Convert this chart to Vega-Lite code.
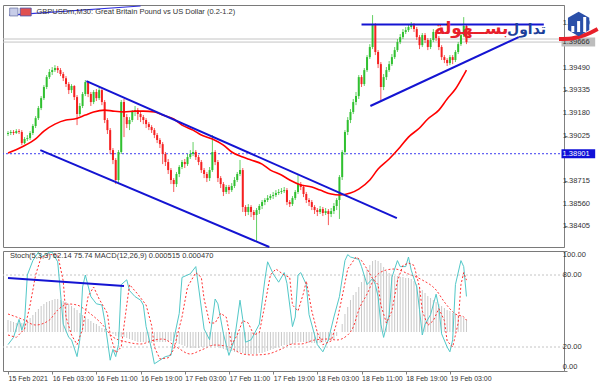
{
"$schema":"https://vega.github.io/schema/vega-lite/v6.json",
"background":"white",
"padding":{"left":2,"top":3,"right":0,"bottom":0},
"spacing":4,
"bounds":"flush",
"config":{"view":{"stroke":"#7a7a7a","strokeWidth":1},"axis":{"domainColor":"#808080","tickColor":"#808080","labelColor":"#333333","labelFont":"Liberation Sans","labelFontSize":7.5,"grid":false,"tickSize":3,"labelOverlap":false},"text":{"font":"Liberation Sans"}},
"datasets":{
"bars":[
{"i":0,"o":1.39036,"h":1.39056,"l":1.39022,"c":1.39043,"m":0.00048},
{"i":1,"o":1.39043,"h":1.39063,"l":1.39029,"c":1.39050,"m":0.00044},
{"i":2,"o":1.39050,"h":1.39063,"l":1.39029,"c":1.39043,"m":0.00040},
{"i":3,"o":1.39043,"h":1.39070,"l":1.39036,"c":1.39056,"m":0.00036},
{"i":4,"o":1.39056,"h":1.39070,"l":1.39036,"c":1.39050,"m":0.00036},
{"i":5,"o":1.39050,"h":1.39063,"l":1.38960,"c":1.38974,"m":0.00036},
{"i":6,"o":1.38974,"h":1.39015,"l":1.38967,"c":1.39002,"m":0.00040},
{"i":7,"o":1.39002,"h":1.39029,"l":1.38988,"c":1.39008,"m":0.00048},
{"i":8,"o":1.39008,"h":1.39056,"l":1.38995,"c":1.39043,"m":0.00056},
{"i":9,"o":1.39043,"h":1.39104,"l":1.39029,"c":1.39091,"m":0.00068},
{"i":10,"o":1.39091,"h":1.39159,"l":1.39077,"c":1.39145,"m":0.00080},
{"i":11,"o":1.39145,"h":1.39228,"l":1.39132,"c":1.39214,"m":0.00092},
{"i":12,"o":1.39214,"h":1.39296,"l":1.39200,"c":1.39282,"m":0.00104},
{"i":13,"o":1.39282,"h":1.39371,"l":1.39269,"c":1.39358,"m":0.00112},
{"i":14,"o":1.39358,"h":1.39440,"l":1.39344,"c":1.39426,"m":0.00120},
{"i":15,"o":1.39426,"h":1.39481,"l":1.39413,"c":1.39461,"m":0.00124},
{"i":16,"o":1.39461,"h":1.39495,"l":1.39440,"c":1.39474,"m":0.00128},
{"i":17,"o":1.39474,"h":1.39508,"l":1.39461,"c":1.39488,"m":0.00132},
{"i":18,"o":1.39488,"h":1.39502,"l":1.39454,"c":1.39474,"m":0.00132},
{"i":19,"o":1.39474,"h":1.39488,"l":1.39433,"c":1.39447,"m":0.00128},
{"i":20,"o":1.39447,"h":1.39461,"l":1.39399,"c":1.39419,"m":0.00124},
{"i":21,"o":1.39419,"h":1.39433,"l":1.39358,"c":1.39378,"m":0.00120},
{"i":22,"o":1.39378,"h":1.39392,"l":1.39310,"c":1.39337,"m":0.00112},
{"i":23,"o":1.39337,"h":1.39378,"l":1.39317,"c":1.39365,"m":0.00104},
{"i":24,"o":1.39365,"h":1.39371,"l":1.39269,"c":1.39289,"m":0.00096},
{"i":25,"o":1.39289,"h":1.39303,"l":1.39097,"c":1.39173,"m":0.00088},
{"i":26,"o":1.39173,"h":1.39248,"l":1.39159,"c":1.39228,"m":0.00076},
{"i":27,"o":1.39228,"h":1.39324,"l":1.39214,"c":1.39310,"m":0.00068},
{"i":28,"o":1.39310,"h":1.39406,"l":1.39296,"c":1.39392,"m":0.00060},
{"i":29,"o":1.39392,"h":1.39399,"l":1.39289,"c":1.39310,"m":0.00052},
{"i":30,"o":1.39310,"h":1.39324,"l":1.39228,"c":1.39255,"m":0.00044},
{"i":31,"o":1.39255,"h":1.39337,"l":1.39241,"c":1.39324,"m":0.00036},
{"i":32,"o":1.39324,"h":1.39344,"l":1.39262,"c":1.39282,"m":0.00032},
{"i":33,"o":1.39282,"h":1.39358,"l":1.39269,"c":1.39337,"m":0.00024},
{"i":34,"o":1.39337,"h":1.39344,"l":1.39234,"c":1.39255,"m":0.00016},
{"i":35,"o":1.39255,"h":1.39269,"l":1.39111,"c":1.39132,"m":0.00012},
{"i":36,"o":1.39132,"h":1.39145,"l":1.39036,"c":1.39063,"m":0.00004},
{"i":37,"o":1.39063,"h":1.39077,"l":1.38899,"c":1.38926,"m":0.0},
{"i":38,"o":1.38926,"h":1.38940,"l":1.38830,"c":1.38858,"m":-0.00008},
{"i":39,"o":1.38858,"h":1.38871,"l":1.38693,"c":1.38721,"m":-0.00016},
{"i":40,"o":1.38721,"h":1.38926,"l":1.38693,"c":1.38913,"m":-0.00020},
{"i":41,"o":1.38913,"h":1.39269,"l":1.38899,"c":1.39255,"m":-0.00020},
{"i":42,"o":1.39255,"h":1.39276,"l":1.39015,"c":1.39152,"m":-0.00020},
{"i":43,"o":1.39152,"h":1.39173,"l":1.39077,"c":1.39104,"m":-0.00024},
{"i":44,"o":1.39104,"h":1.39152,"l":1.39063,"c":1.39132,"m":-0.00028},
{"i":45,"o":1.39132,"h":1.39200,"l":1.39118,"c":1.39187,"m":-0.00032},
{"i":46,"o":1.39187,"h":1.39228,"l":1.39159,"c":1.39200,"m":-0.00036},
{"i":47,"o":1.39200,"h":1.39214,"l":1.39132,"c":1.39173,"m":-0.00040},
{"i":48,"o":1.39173,"h":1.39187,"l":1.39118,"c":1.39152,"m":-0.00040},
{"i":49,"o":1.39152,"h":1.39166,"l":1.39104,"c":1.39132,"m":-0.00040},
{"i":50,"o":1.39132,"h":1.39145,"l":1.39077,"c":1.39104,"m":-0.00040},
{"i":51,"o":1.39104,"h":1.39118,"l":1.39063,"c":1.39084,"m":-0.00044},
{"i":52,"o":1.39084,"h":1.39097,"l":1.39043,"c":1.39063,"m":-0.00044},
{"i":53,"o":1.39063,"h":1.39077,"l":1.39008,"c":1.39029,"m":-0.00040},
{"i":54,"o":1.39029,"h":1.39043,"l":1.38974,"c":1.38995,"m":-0.00040},
{"i":55,"o":1.38995,"h":1.39008,"l":1.38940,"c":1.38967,"m":-0.00040},
{"i":56,"o":1.38967,"h":1.38981,"l":1.38830,"c":1.38899,"m":-0.00040},
{"i":57,"o":1.38899,"h":1.38913,"l":1.38817,"c":1.38844,"m":-0.00040},
{"i":58,"o":1.38844,"h":1.38865,"l":1.38762,"c":1.38789,"m":-0.00036},
{"i":59,"o":1.38789,"h":1.38803,"l":1.38693,"c":1.38721,"m":-0.00036},
{"i":60,"o":1.38721,"h":1.38734,"l":1.38639,"c":1.38693,"m":-0.00040},
{"i":61,"o":1.38693,"h":1.38776,"l":1.38673,"c":1.38762,"m":-0.00044},
{"i":62,"o":1.38762,"h":1.38823,"l":1.38741,"c":1.38810,"m":-0.00048},
{"i":63,"o":1.38810,"h":1.38858,"l":1.38796,"c":1.38844,"m":-0.00052},
{"i":64,"o":1.38844,"h":1.38865,"l":1.38803,"c":1.38830,"m":-0.00056},
{"i":65,"o":1.38830,"h":1.38899,"l":1.38817,"c":1.38878,"m":-0.00060},
{"i":66,"o":1.38878,"h":1.38926,"l":1.38865,"c":1.38899,"m":-0.00064},
{"i":67,"o":1.38899,"h":1.38981,"l":1.38885,"c":1.38913,"m":-0.00064},
{"i":68,"o":1.38913,"h":1.38926,"l":1.38858,"c":1.38878,"m":-0.00064},
{"i":69,"o":1.38878,"h":1.38892,"l":1.38823,"c":1.38844,"m":-0.00064},
{"i":70,"o":1.38844,"h":1.38858,"l":1.38769,"c":1.38789,"m":-0.00060},
{"i":71,"o":1.38789,"h":1.38803,"l":1.38734,"c":1.38762,"m":-0.00060},
{"i":72,"o":1.38762,"h":1.38776,"l":1.38707,"c":1.38734,"m":-0.00060},
{"i":73,"o":1.38734,"h":1.38810,"l":1.38714,"c":1.38789,"m":-0.00056},
{"i":74,"o":1.38789,"h":1.39029,"l":1.38776,"c":1.38913,"m":-0.00056},
{"i":75,"o":1.38913,"h":1.38926,"l":1.38823,"c":1.38844,"m":-0.00056},
{"i":76,"o":1.38844,"h":1.38858,"l":1.38707,"c":1.38734,"m":-0.00060},
{"i":77,"o":1.38734,"h":1.38748,"l":1.38666,"c":1.38693,"m":-0.00064},
{"i":78,"o":1.38693,"h":1.38707,"l":1.38611,"c":1.38639,"m":-0.00068},
{"i":79,"o":1.38639,"h":1.38687,"l":1.38625,"c":1.38673,"m":-0.00072},
{"i":80,"o":1.38673,"h":1.38687,"l":1.38625,"c":1.38652,"m":-0.00076},
{"i":81,"o":1.38652,"h":1.38700,"l":1.38639,"c":1.38680,"m":-0.00076},
{"i":82,"o":1.38680,"h":1.38741,"l":1.38666,"c":1.38721,"m":-0.00080},
{"i":83,"o":1.38721,"h":1.38776,"l":1.38707,"c":1.38762,"m":-0.00080},
{"i":84,"o":1.38762,"h":1.38858,"l":1.38748,"c":1.38789,"m":-0.00080},
{"i":85,"o":1.38789,"h":1.38803,"l":1.38502,"c":1.38536,"m":-0.00084},
{"i":86,"o":1.38536,"h":1.38549,"l":1.38474,"c":1.38502,"m":-0.00088},
{"i":87,"o":1.38502,"h":1.38556,"l":1.38481,"c":1.38536,"m":-0.00088},
{"i":88,"o":1.38536,"h":1.38549,"l":1.38467,"c":1.38502,"m":-0.00088},
{"i":89,"o":1.38502,"h":1.38515,"l":1.38447,"c":1.38481,"m":-0.00088},
{"i":90,"o":1.38481,"h":1.38529,"l":1.38296,"c":1.38515,"m":-0.00088},
{"i":91,"o":1.38515,"h":1.38556,"l":1.38488,"c":1.38543,"m":-0.00084},
{"i":92,"o":1.38543,"h":1.38584,"l":1.38522,"c":1.38570,"m":-0.00084},
{"i":93,"o":1.38570,"h":1.38597,"l":1.38549,"c":1.38584,"m":-0.00080},
{"i":94,"o":1.38584,"h":1.38618,"l":1.38570,"c":1.38597,"m":-0.00076},
{"i":95,"o":1.38597,"h":1.38625,"l":1.38584,"c":1.38611,"m":-0.00072},
{"i":96,"o":1.38611,"h":1.38639,"l":1.38591,"c":1.38618,"m":-0.00068},
{"i":97,"o":1.38618,"h":1.38652,"l":1.38604,"c":1.38632,"m":-0.00064},
{"i":98,"o":1.38632,"h":1.38659,"l":1.38618,"c":1.38639,"m":-0.00060},
{"i":99,"o":1.38639,"h":1.38666,"l":1.38625,"c":1.38645,"m":-0.00056},
{"i":100,"o":1.38645,"h":1.38673,"l":1.38632,"c":1.38652,"m":-0.00052},
{"i":101,"o":1.38652,"h":1.38666,"l":1.38549,"c":1.38570,"m":-0.00052},
{"i":102,"o":1.38570,"h":1.38584,"l":1.38536,"c":1.38556,"m":-0.00052},
{"i":103,"o":1.38556,"h":1.38611,"l":1.38543,"c":1.38597,"m":-0.00048},
{"i":104,"o":1.38597,"h":1.38652,"l":1.38584,"c":1.38639,"m":-0.00044},
{"i":105,"o":1.38639,"h":1.38762,"l":1.38625,"c":1.38693,"m":-0.00040},
{"i":106,"o":1.38693,"h":1.38707,"l":1.38652,"c":1.38673,"m":-0.00040},
{"i":107,"o":1.38673,"h":1.38687,"l":1.38604,"c":1.38625,"m":-0.00040},
{"i":108,"o":1.38625,"h":1.38639,"l":1.38563,"c":1.38584,"m":-0.00040},
{"i":109,"o":1.38584,"h":1.38597,"l":1.38543,"c":1.38570,"m":-0.00044},
{"i":110,"o":1.38570,"h":1.38584,"l":1.38515,"c":1.38536,"m":-0.00044},
{"i":111,"o":1.38536,"h":1.38549,"l":1.38488,"c":1.38515,"m":-0.00044},
{"i":112,"o":1.38515,"h":1.38529,"l":1.38474,"c":1.38502,"m":-0.00044},
{"i":113,"o":1.38502,"h":1.38543,"l":1.38488,"c":1.38522,"m":-0.00044},
{"i":114,"o":1.38522,"h":1.38536,"l":1.38474,"c":1.38495,"m":-0.00040},
{"i":115,"o":1.38495,"h":1.38529,"l":1.38481,"c":1.38508,"m":-0.00040},
{"i":116,"o":1.38508,"h":1.38522,"l":1.38412,"c":1.38488,"m":-0.00036},
{"i":117,"o":1.38488,"h":1.38529,"l":1.38467,"c":1.38508,"m":-0.00032},
{"i":118,"o":1.38508,"h":1.38563,"l":1.38488,"c":1.38543,"m":-0.00028},
{"i":119,"o":1.38543,"h":1.38597,"l":1.38515,"c":1.38584,"m":-0.00016},
{"i":120,"o":1.38584,"h":1.38755,"l":1.38454,"c":1.38741,"m":0.0},
{"i":121,"o":1.38741,"h":1.38926,"l":1.38721,"c":1.38913,"m":0.00032},
{"i":122,"o":1.38913,"h":1.39063,"l":1.38892,"c":1.39050,"m":0.00072},
{"i":123,"o":1.39050,"h":1.39152,"l":1.39029,"c":1.39132,"m":0.00100},
{"i":124,"o":1.39132,"h":1.39207,"l":1.39111,"c":1.39187,"m":0.00128},
{"i":125,"o":1.39187,"h":1.39276,"l":1.39173,"c":1.39255,"m":0.00148},
{"i":126,"o":1.39255,"h":1.39324,"l":1.39234,"c":1.39296,"m":0.00160},
{"i":127,"o":1.39296,"h":1.39440,"l":1.39276,"c":1.39426,"m":0.00180},
{"i":128,"o":1.39426,"h":1.39440,"l":1.39358,"c":1.39378,"m":0.00200},
{"i":129,"o":1.39378,"h":1.39488,"l":1.39365,"c":1.39474,"m":0.00228},
{"i":130,"o":1.39474,"h":1.39577,"l":1.39461,"c":1.39563,"m":0.00252},
{"i":131,"o":1.39563,"h":1.39652,"l":1.39550,"c":1.39632,"m":0.00268},
{"i":132,"o":1.39632,"h":1.39851,"l":1.39618,"c":1.39782,"m":0.00284},
{"i":133,"o":1.39782,"h":1.39796,"l":1.39577,"c":1.39598,"m":0.00288},
{"i":134,"o":1.39598,"h":1.39611,"l":1.39488,"c":1.39515,"m":0.00284},
{"i":135,"o":1.39515,"h":1.39529,"l":1.39269,"c":1.39358,"m":0.00276},
{"i":136,"o":1.39358,"h":1.39447,"l":1.39337,"c":1.39426,"m":0.00260},
{"i":137,"o":1.39426,"h":1.39495,"l":1.39406,"c":1.39474,"m":0.00244},
{"i":138,"o":1.39474,"h":1.39536,"l":1.39461,"c":1.39515,"m":0.00236},
{"i":139,"o":1.39515,"h":1.39584,"l":1.39502,"c":1.39563,"m":0.00228},
{"i":140,"o":1.39563,"h":1.39632,"l":1.39550,"c":1.39611,"m":0.00224},
{"i":141,"o":1.39611,"h":1.39687,"l":1.39598,"c":1.39666,"m":0.00224},
{"i":142,"o":1.39666,"h":1.39721,"l":1.39652,"c":1.39700,"m":0.00220},
{"i":143,"o":1.39700,"h":1.39755,"l":1.39687,"c":1.39735,"m":0.00220},
{"i":144,"o":1.39735,"h":1.39769,"l":1.39721,"c":1.39748,"m":0.00216},
{"i":145,"o":1.39748,"h":1.39789,"l":1.39735,"c":1.39769,"m":0.00216},
{"i":146,"o":1.39769,"h":1.39803,"l":1.39755,"c":1.39782,"m":0.00212},
{"i":147,"o":1.39782,"h":1.39796,"l":1.39735,"c":1.39755,"m":0.00204},
{"i":148,"o":1.39755,"h":1.39769,"l":1.39680,"c":1.39700,"m":0.00192},
{"i":149,"o":1.39700,"h":1.39714,"l":1.39618,"c":1.39645,"m":0.00180},
{"i":150,"o":1.39645,"h":1.39728,"l":1.39632,"c":1.39714,"m":0.00168},
{"i":151,"o":1.39714,"h":1.39728,"l":1.39659,"c":1.39680,"m":0.00156},
{"i":152,"o":1.39680,"h":1.39693,"l":1.39611,"c":1.39632,"m":0.00144},
{"i":153,"o":1.39632,"h":1.39693,"l":1.39618,"c":1.39680,"m":0.00136},
{"i":154,"o":1.39680,"h":1.39755,"l":1.39666,"c":1.39735,"m":0.00128},
{"i":155,"o":1.39735,"h":1.39748,"l":1.39673,"c":1.39693,"m":0.00120},
{"i":156,"o":1.39693,"h":1.39707,"l":1.39611,"c":1.39632,"m":0.00112},
{"i":157,"o":1.39632,"h":1.39645,"l":1.39543,"c":1.39563,"m":0.00104},
{"i":158,"o":1.39563,"h":1.39577,"l":1.39522,"c":1.39543,"m":0.00096},
{"i":159,"o":1.39543,"h":1.39556,"l":1.39502,"c":1.39522,"m":0.00088},
{"i":160,"o":1.39522,"h":1.39577,"l":1.39508,"c":1.39563,"m":0.00084},
{"i":161,"o":1.39563,"h":1.39577,"l":1.39515,"c":1.39543,"m":0.00076},
{"i":162,"o":1.39543,"h":1.39611,"l":1.39529,"c":1.39598,"m":0.00072},
{"i":163,"o":1.39598,"h":1.39666,"l":1.39584,"c":1.39652,"m":0.00068},
{"i":164,"o":1.39652,"h":1.39735,"l":1.39639,"c":1.39714,"m":0.00064},
{"i":165,"o":1.39714,"h":1.39837,"l":1.39700,"c":1.39776,"m":0.00056},
{"i":166,"o":1.39776,"h":1.39789,"l":1.39652,"c":1.39666,"m":0.000515}
],
"ma":[
{"i":0,"v":1.38906},{"i":5,"v":1.38947},{"i":10,"v":1.39002},{"i":13,"v":1.39056},{"i":17,"v":1.39104},{"i":21,"v":1.39132},{"i":24,"v":1.39139},{"i":28,"v":1.39166},{"i":31,"v":1.39187},{"i":35,"v":1.39200},{"i":38,"v":1.39193},{"i":42,"v":1.39187},{"i":46,"v":1.39193},{"i":49,"v":1.39193},{"i":53,"v":1.39187},{"i":56,"v":1.39166},{"i":60,"v":1.39139},{"i":63,"v":1.39097},{"i":67,"v":1.39063},{"i":70,"v":1.39029},{"i":74,"v":1.39002},{"i":78,"v":1.38960},{"i":81,"v":1.38913},{"i":85,"v":1.38878},{"i":88,"v":1.38858},{"i":92,"v":1.38830},{"i":95,"v":1.38789},{"i":99,"v":1.38755},{"i":102,"v":1.38721},{"i":106,"v":1.38687},{"i":110,"v":1.38673},{"i":113,"v":1.38652},{"i":117,"v":1.38625},{"i":120,"v":1.38618},{"i":124,"v":1.38632},{"i":127,"v":1.38659},{"i":131,"v":1.38721},{"i":134,"v":1.38796},{"i":138,"v":1.38865},{"i":142,"v":1.38947},{"i":145,"v":1.39015},{"i":149,"v":1.39077},{"i":152,"v":1.39139},{"i":156,"v":1.39200},{"i":159,"v":1.39276},{"i":162,"v":1.39344},{"i":165,"v":1.39440},{"i":166,"v":1.39474}
],
"trend":[
{"id":"a","i":28.4,"p":1.39399},{"id":"a","i":140.8,"p":1.38460},
{"id":"b","i":11.7,"p":1.38926},{"id":"b","i":94.6,"p":1.38262},
{"id":"c","i":128,"p":1.39787},{"id":"c","i":194,"p":1.39787},
{"id":"d","i":131.2,"p":1.39228},{"id":"d","i":184.9,"p":1.39700}
],
"k":[
{"i":0,"v":22},{"i":2,"v":28},{"i":4,"v":43},{"i":5,"v":34},{"i":6,"v":41},{"i":7,"v":80},{"i":9,"v":92},{"i":11,"v":99},{"i":12,"v":95},{"i":15,"v":99},{"i":16,"v":99},{"i":18,"v":91},{"i":20,"v":39},{"i":22,"v":28},{"i":23,"v":26},{"i":25,"v":12},{"i":26,"v":26},{"i":27,"v":70},{"i":28,"v":80},{"i":30,"v":62},{"i":31,"v":59},{"i":32,"v":56},{"i":34,"v":55},{"i":35,"v":42},{"i":37,"v":9},{"i":38,"v":18},{"i":39,"v":12},{"i":40,"v":22},{"i":41,"v":72},{"i":43,"v":76},{"i":44,"v":67},{"i":46,"v":62},{"i":48,"v":59},{"i":49,"v":55},{"i":50,"v":37},{"i":52,"v":18},{"i":53,"v":6},{"i":55,"v":9},{"i":57,"v":12},{"i":59,"v":13},{"i":60,"v":26},{"i":62,"v":48},{"i":63,"v":78},{"i":66,"v":81},{"i":68,"v":87},{"i":69,"v":70},{"i":71,"v":35},{"i":73,"v":26},{"i":75,"v":60},{"i":76,"v":56},{"i":78,"v":31},{"i":80,"v":13},{"i":82,"v":26},{"i":84,"v":59},{"i":85,"v":43},{"i":86,"v":24},{"i":88,"v":26},{"i":91,"v":39},{"i":93,"v":76},{"i":94,"v":91},{"i":96,"v":81},{"i":98,"v":74},{"i":100,"v":82},{"i":101,"v":73},{"i":103,"v":37},{"i":104,"v":45},{"i":105,"v":80},{"i":106,"v":82},{"i":108,"v":72},{"i":109,"v":47},{"i":111,"v":30},{"i":112,"v":22},{"i":114,"v":16},{"i":116,"v":26},{"i":118,"v":45},{"i":120,"v":62},{"i":122,"v":92},{"i":123,"v":97},{"i":124,"v":95},{"i":127,"v":93},{"i":128,"v":87},{"i":130,"v":72},{"i":132,"v":77},{"i":133,"v":72},{"i":134,"v":62},{"i":135,"v":39},{"i":136,"v":28},{"i":138,"v":47},{"i":139,"v":78},{"i":141,"v":92},{"i":142,"v":87},{"i":144,"v":87},{"i":145,"v":95},{"i":146,"v":84},{"i":148,"v":70},{"i":149,"v":51},{"i":150,"v":30},{"i":151,"v":39},{"i":153,"v":47},{"i":155,"v":64},{"i":156,"v":53},{"i":157,"v":31},{"i":159,"v":20},{"i":160,"v":16},{"i":161,"v":26},{"i":162,"v":72},{"i":164,"v":92},{"i":165,"v":87},{"i":166,"v":62.14}
],
"d":[
{"i":0,"v":30},{"i":3,"v":28},{"i":6,"v":35},{"i":8,"v":55},{"i":10,"v":80},{"i":12,"v":95},{"i":15,"v":97},{"i":18,"v":97},{"i":20,"v":75},{"i":21,"v":45},{"i":23,"v":30},{"i":25,"v":22},{"i":27,"v":35},{"i":29,"v":62},{"i":31,"v":70},{"i":33,"v":60},{"i":36,"v":48},{"i":37,"v":30},{"i":39,"v":15},{"i":41,"v":20},{"i":43,"v":55},{"i":44,"v":72},{"i":47,"v":64},{"i":50,"v":55},{"i":52,"v":38},{"i":53,"v":20},{"i":55,"v":10},{"i":58,"v":11},{"i":60,"v":18},{"i":63,"v":45},{"i":65,"v":70},{"i":68,"v":82},{"i":70,"v":78},{"i":71,"v":60},{"i":73,"v":40},{"i":75,"v":40},{"i":77,"v":48},{"i":79,"v":45},{"i":81,"v":22},{"i":83,"v":30},{"i":85,"v":42},{"i":87,"v":40},{"i":89,"v":30},{"i":91,"v":32},{"i":93,"v":55},{"i":95,"v":80},{"i":97,"v":85},{"i":100,"v":80},{"i":102,"v":78},{"i":103,"v":55},{"i":105,"v":50},{"i":107,"v":65},{"i":108,"v":75},{"i":110,"v":50},{"i":112,"v":32},{"i":114,"v":22},{"i":117,"v":25},{"i":119,"v":40},{"i":121,"v":62},{"i":123,"v":85},{"i":126,"v":95},{"i":128,"v":92},{"i":130,"v":85},{"i":132,"v":77},{"i":134,"v":72},{"i":135,"v":55},{"i":137,"v":40},{"i":139,"v":50},{"i":141,"v":75},{"i":143,"v":88},{"i":145,"v":90},{"i":147,"v":88},{"i":149,"v":70},{"i":150,"v":50},{"i":152,"v":38},{"i":154,"v":42},{"i":156,"v":52},{"i":158,"v":42},{"i":159,"v":25},{"i":161,"v":20},{"i":163,"v":40},{"i":164,"v":72},{"i":165,"v":82},{"i":166,"v":75.74}
],
"sig":[
{"i":0,"v":0.00072},{"i":5,"v":0.00052},{"i":10,"v":0.00028},{"i":15,"v":0.00048},{"i":18,"v":0.00088},{"i":22,"v":0.00112},{"i":25,"v":0.00108},{"i":29,"v":0.00080},{"i":34,"v":0.00032},{"i":38,"v":-0.00020},{"i":43,"v":-0.00040},{"i":48,"v":-0.00048},{"i":53,"v":-0.00032},{"i":56,"v":-0.00028},{"i":61,"v":-0.00060},{"i":66,"v":-0.00088},{"i":70,"v":-0.00072},{"i":75,"v":-0.00052},{"i":80,"v":-0.00060},{"i":85,"v":-0.00088},{"i":89,"v":-0.00092},{"i":94,"v":-0.00088},{"i":99,"v":-0.00068},{"i":103,"v":-0.00048},{"i":106,"v":-0.00048},{"i":111,"v":-0.00032},{"i":116,"v":-0.00028},{"i":119,"v":-0.00032},{"i":123,"v":-0.00012},{"i":125,"v":0.00020},{"i":127,"v":0.00088},{"i":130,"v":0.00152},{"i":133,"v":0.00220},{"i":137,"v":0.00248},{"i":140,"v":0.00252},{"i":145,"v":0.00232},{"i":150,"v":0.00208},{"i":155,"v":0.00168},{"i":158,"v":0.00120},{"i":162,"v":0.00072},{"i":165,"v":0.00060},{"i":166,"v":0.00047}
],
"pticks":[{"p":1.38405},{"p":1.3856},{"p":1.38715},{"p":1.39025},{"p":1.3918},{"p":1.39335},{"p":1.3949},{"p":1.398}],
"logobars":[{"i":204.5,"a":1.39735,"b":1.39776},{"i":206.6,"a":1.39735,"b":1.39810},{"i":208.8,"a":1.39735,"b":1.39838}],
"swoosh":[{"i":199.5,"p":1.39687},{"i":204,"p":1.39691},{"i":209,"p":1.39715},{"i":213.5,"p":1.39756}]
},
"vconcat":[
{
"width":561,"height":242,
"layer":[
{"data":{"values":[{"p":1.39687},{"p":1.39666}]},"mark":{"type":"rule","color":"#c4c4c4","strokeWidth":1},
 "encoding":{"y":{"field":"p","type":"quantitative","scale":{"domain":[1.38262,1.3992],"nice":false,"zero":false},
 "axis":{"orient":"right","title":null,"values":[1.38405,1.3856,1.38715,1.3887,1.39025,1.3918,1.39335,1.3949,1.39645,1.398],"labels":false}}}},
{"data":{"name":"pticks"},"mark":{"type":"text","align":"left","baseline":"middle","fontSize":7.5,"color":"#333333","clip":false},
 "encoding":{"x":{"datum":200.9,"axis":null},"y":{"field":"p","type":"quantitative"},"text":{"field":"p","type":"quantitative","format":".5f"}}},
{"data":{"values":[{"p":1.38901}]},"mark":{"type":"rule","color":"#3c3cf0","strokeWidth":1,"strokeDash":[2,2]},
 "encoding":{"y":{"field":"p","type":"quantitative","scale":{"domain":[1.38262,1.3992],"nice":false,"zero":false}}}},
{"data":{"name":"bars"},"mark":{"type":"rule","strokeWidth":1,"opacity":0.75},
 "encoding":{"x":{"field":"i","type":"quantitative","scale":{"domain":[0,199.5],"nice":false,"zero":false},"axis":null},
 "y":{"field":"l","type":"quantitative","scale":{"domain":[1.38262,1.3992],"nice":false,"zero":false}},"y2":{"field":"h"},
 "color":{"condition":{"test":"datum.c>=datum.o","value":"#30c030"},"value":"#f52020"}}},
{"data":{"name":"bars"},"mark":{"type":"bar","size":2},
 "encoding":{"x":{"field":"i","type":"quantitative","scale":{"domain":[0,199.5],"nice":false,"zero":false},"axis":null},
 "y":{"field":"o","type":"quantitative","scale":{"domain":[1.38262,1.3992],"nice":false,"zero":false}},"y2":{"field":"c"},
 "color":{"condition":{"test":"datum.c>=datum.o","value":"#30c030"},"value":"#f52020"}}},
{"data":{"name":"ma"},"mark":{"type":"line","color":"#ff0000","strokeWidth":1.6,"interpolate":"monotone"},
 "encoding":{"x":{"field":"i","type":"quantitative","scale":{"domain":[0,199.5],"nice":false,"zero":false},"axis":null},
 "y":{"field":"v","type":"quantitative","scale":{"domain":[1.38262,1.3992],"nice":false,"zero":false}}}},
{"data":{"name":"trend"},"mark":{"type":"line","color":"#1414d2","strokeWidth":2},
 "encoding":{"x":{"field":"i","type":"quantitative","scale":{"domain":[0,199.5],"nice":false,"zero":false},"axis":null},
 "y":{"field":"p","type":"quantitative","scale":{"domain":[1.38262,1.3992],"nice":false,"zero":false}},"detail":{"field":"id"}}},
{"data":{"values":[{"i":0.4,"p":1.39851},{"i":48,"p":1.39913}]},"mark":{"type":"line","color":"#3030e0","strokeWidth":1.2},
 "encoding":{"x":{"field":"i","type":"quantitative","scale":{"domain":[0,199.5],"nice":false,"zero":false},"axis":null},
 "y":{"field":"p","type":"quantitative","scale":{"domain":[1.38262,1.3992],"nice":false,"zero":false}}}},
{"data":{"values":[{"t":"icon1"}]},"mark":{"type":"rect","color":"#c8cde8","stroke":"#7078a8","strokeWidth":0.8},
 "encoding":{"x":{"datum":0.6,"axis":null},"x2":{"datum":3.6},"y":{"datum":1.39899},"y2":{"datum":1.39845}}},
{"data":{"values":[{"t":"icon2"}]},"mark":{"type":"rect","color":"#e05050","stroke":"#4050b0","strokeWidth":0.8},
 "encoding":{"x":{"datum":4.4,"axis":null},"x2":{"datum":8.4},"y":{"datum":1.39899},"y2":{"datum":1.39845}}},
{"data":{"values":[{"t":"GBPUSDm,M30:  Great Britain Pound vs US Dollar (0.2-1.2)"}]},"mark":{"type":"text","align":"left","baseline":"middle","fontSize":7.5,"color":"#333333"},
 "encoding":{"x":{"datum":10.3,"axis":null},"y":{"datum":1.39872},"text":{"field":"t","type":"nominal"}}},
{"data":{"values":[{"t":"بســهولة"}]},"mark":{"type":"text","align":"right","baseline":"middle","font":"DejaVu Sans","fontSize":17,"fontWeight":"bold","color":"#e8202a"},
 "encoding":{"x":{"datum":181.2,"axis":null},"y":{"datum":1.39758},"text":{"field":"t","type":"nominal"}}},
{"data":{"values":[{"t":"تداول"}]},"mark":{"type":"text","align":"right","baseline":"middle","font":"DejaVu Sans","fontSize":14,"fontWeight":"bold","color":"#1d3f9a"},
 "encoding":{"x":{"datum":194.8,"axis":null},"y":{"datum":1.39748},"text":{"field":"t","type":"nominal"}}},
{"data":{"values":[{"t":"1.38901"}]},"mark":{"type":"rect","color":"#1010d8","clip":false},
 "encoding":{"x":{"datum":200.4,"axis":null},"x2":{"datum":212.6},"y":{"datum":1.3887},"y2":{"datum":1.38932}}},
{"data":{"values":[{"t":"1.38901"}]},"mark":{"type":"text","align":"left","baseline":"middle","fontSize":7.5,"color":"white","clip":false},
 "encoding":{"x":{"datum":200.8,"axis":null},"y":{"datum":1.38901},"text":{"field":"t","type":"nominal"}}},
{"data":{"values":[{"t":"1.39666"}]},"mark":{"type":"rect","color":"#bdbdbd","clip":false},
 "encoding":{"x":{"datum":200.4,"axis":null},"x2":{"datum":212.6},"y":{"datum":1.39635},"y2":{"datum":1.39697}}},
{"data":{"values":[{"t":"1.39666"}]},"mark":{"type":"text","align":"left","baseline":"middle","fontSize":7.5,"color":"#333333","clip":false},
 "encoding":{"x":{"datum":200.8,"axis":null},"y":{"datum":1.39666},"text":{"field":"t","type":"nominal"}}},
{"data":{"name":"swoosh"},"mark":{"type":"line","color":"#e8202a","strokeWidth":4,"interpolate":"monotone","clip":false},
 "encoding":{"x":{"field":"i","type":"quantitative","axis":null},"y":{"field":"p","type":"quantitative"}}},
{"data":{"values":[{"t":"logo"}]},"mark":{"type":"point","shape":"M0,-1L0.87,-0.5L0.87,0.5L0,1L-0.87,0.5L-0.87,-0.5Z","filled":true,"color":"#2a4fa8","size":600,"opacity":1,"clip":false},
 "encoding":{"x":{"datum":206.6,"axis":null},"y":{"datum":1.3979}}},
{"data":{"name":"logobars"},"mark":{"type":"rule","color":"white","strokeWidth":3,"clip":false},
 "encoding":{"x":{"field":"i","type":"quantitative","axis":null},"y":{"field":"a","type":"quantitative"},"y2":{"field":"b"}}}
]
},
{
"width":561,"height":120,
"resolve":{"scale":{"y":"independent"},"axis":{"y":"independent"}},
"layer":[
{"layer":[
 {"data":{"name":"bars"},"mark":{"type":"bar","size":1,"color":"#c8c8c8"},
  "encoding":{"x":{"field":"i","type":"quantitative","scale":{"domain":[0,199.5],"nice":false,"zero":false},
  "axis":{"values":[0,16,32,48,64,80,96,112,128,144,160],"title":null,"labelAlign":"left","labelPadding":0,"labelFlush":false,"labelOverlap":false,"domain":false,"labelFontSize":7,
  "labelExpr":"['15 Feb 2021','16 Feb 03:00','16 Feb 11:00','16 Feb 19:00','17 Feb 03:00','17 Feb 11:00','17 Feb 19:00','18 Feb 03:00','18 Feb 11:00','18 Feb 19:00','19 Feb 03:00'][round(datum.value/16)]"}},
  "y":{"field":"m","type":"quantitative","scale":{"domain":[-0.00156,0.00324],"nice":false,"zero":false},"axis":null},"y2":{"datum":0}}},
 {"data":{"name":"sig"},"mark":{"type":"line","color":"#ff3a3a","strokeWidth":1,"strokeDash":[2,2],"interpolate":"monotone"},
  "encoding":{"x":{"field":"i","type":"quantitative"},
  "y":{"field":"v","type":"quantitative","scale":{"domain":[-0.00156,0.00324],"nice":false,"zero":false},"axis":null}}}
]},
{"layer":[
 {"data":{"values":[{"v":80},{"v":20}]},"mark":{"type":"rule","color":"#c4c4c4","strokeWidth":1,"strokeDash":[2,2]},
  "encoding":{"y":{"field":"v","type":"quantitative","scale":{"domain":[0,100],"nice":false,"zero":false},
  "axis":{"orient":"right","title":null,"values":[0,20,80,100],"labels":false}}}},
 {"data":{"values":[{"v":97,"t":"100.00"},{"v":80,"t":"80.00"},{"v":20,"t":"20.00"},{"v":3,"t":"0.00"}]},"mark":{"type":"text","align":"left","baseline":"middle","fontSize":7.5,"color":"#333333","clip":false},
  "encoding":{"x":{"datum":200.9},"y":{"field":"v","type":"quantitative"},"text":{"field":"t","type":"nominal"}}},
 {"data":{"name":"k"},"mark":{"type":"line","color":"#52c8c8","strokeWidth":1},
  "encoding":{"x":{"field":"i","type":"quantitative"},"y":{"field":"v","type":"quantitative","scale":{"domain":[0,100],"nice":false,"zero":false}}}},
 {"data":{"name":"d"},"mark":{"type":"line","color":"#ff3030","strokeWidth":1,"strokeDash":[2,2]},
  "encoding":{"x":{"field":"i","type":"quantitative"},"y":{"field":"v","type":"quantitative","scale":{"domain":[0,100],"nice":false,"zero":false}}}},
 {"data":{"values":[{"i":0,"v":77.5},{"i":42,"v":70.8}]},"mark":{"type":"line","color":"#1414d2","strokeWidth":2},
  "encoding":{"x":{"field":"i","type":"quantitative"},"y":{"field":"v","type":"quantitative","scale":{"domain":[0,100],"nice":false,"zero":false}}}},
 {"data":{"values":[{"t":"Stoch(5,3,3) 62.14 75.74 MACD(12,26,9) 0.000515 0.000470"}]},"mark":{"type":"text","align":"left","baseline":"middle","fontSize":7.5,"color":"#333333"},
  "encoding":{"x":{"datum":0.7},"y":{"datum":95.8},"text":{"field":"t","type":"nominal"}}}
]}
]
}
]
}
